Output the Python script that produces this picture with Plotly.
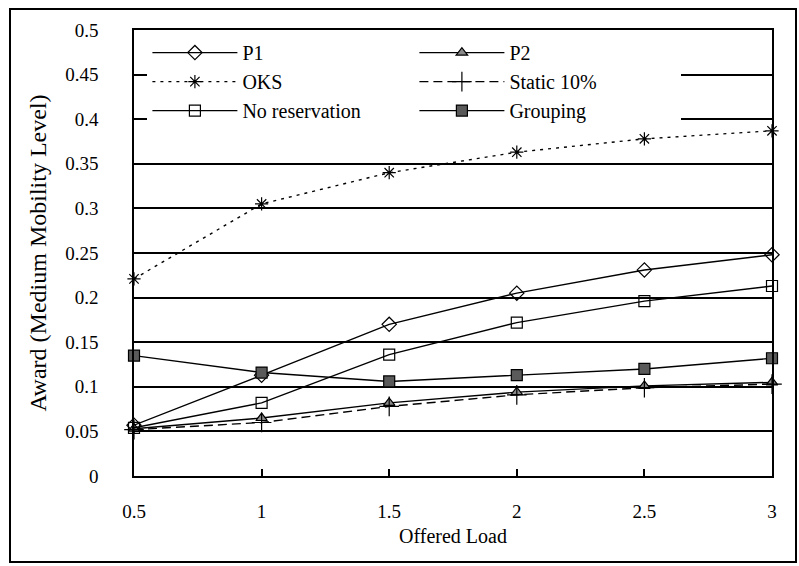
import plotly.graph_objects as go

# Offered load levels
offered_load = [0.5, 1, 1.5, 2, 2.5, 3]

# Award at medium mobility level for each scheme
p1 = [0.057, 0.113, 0.170, 0.205, 0.231, 0.248]
p2 = [0.053, 0.065, 0.082, 0.094, 0.101, 0.105]
oks = [0.221, 0.305, 0.340, 0.363, 0.378, 0.387]
static10 = [0.052, 0.060, 0.078, 0.091, 0.099, 0.103]
no_reservation = [0.054, 0.082, 0.136, 0.172, 0.196, 0.213]
grouping = [0.135, 0.116, 0.106, 0.113, 0.120, 0.132]

y_ticks = [0, 0.05, 0.1, 0.15, 0.2, 0.25, 0.3, 0.35, 0.4, 0.45, 0.5]
y_tick_text = ["0", "0.05", "0.1", "0.15", "0.2", "0.25", "0.3", "0.35", "0.4", "0.45", "0.5"]
x_ticks = [0.5, 1, 1.5, 2, 2.5, 3]
x_tick_text = ["0.5", "1", "1.5", "2", "2.5", "3"]

SERIF = "Liberation Serif, Times New Roman, serif"

series = [
    # name, values, dash, symbol, marker fill, marker size
    ("P1", p1, "solid", "diamond-open", "black", 11),
    ("P2", p2, "solid", "triangle-up", "#8a8a8a", 10),
    ("OKS", oks, "3px,5px", "asterisk-open", "black", 11),
    ("Static 10%", static10, "9px,5px", "cross-thin-open", "black", 14),
    ("No reservation", no_reservation, "solid", "square-open", "black", 11),
    ("Grouping", grouping, "solid", "square", "#5a5a5a", 11),
]

fig = go.Figure()
for name, vals, dash, symbol, fill, size in series:
    fig.add_trace(go.Scatter(
        x=offered_load, y=vals, name=name, mode="lines+markers",
        line=dict(color="black", width=1.4, dash=dash),
        marker=dict(symbol=symbol, size=size, color=fill,
                    line=dict(color="black", width=1.2)),
        cliponaxis=False,
    ))

# Outer frame around the whole chart
L, T = 134, 30
PW, PH = 638, 446
def px_x(px):
    return (px - L) / PW
def px_y(py):
    return (T + PH - py) / PH

fig.add_shape(type="rect", xref="paper", yref="paper",
              x0=px_x(10), x1=px_x(796), y0=px_y(562), y1=px_y(9),
              line=dict(color="black", width=2), layer="below")

fig.update_layout(
    width=799, height=566,
    margin=dict(l=L, r=799 - L - PW, t=T, b=566 - T - PH),
    paper_bgcolor="white", plot_bgcolor="white",
    font=dict(family=SERIF, color="black", size=19),
    showlegend=True,
    legend=dict(
        orientation="h", x=0.021, y=0.993, xanchor="left", yanchor="top",
        bgcolor="white", borderwidth=0,
        font=dict(family=SERIF, size=20, color="black"),
        entrywidth=167, entrywidthmode="pixels",
        itemwidth=85, tracegroupgap=0,
    ),
    xaxis=dict(
        range=[0.5, 3], tickvals=x_ticks, ticktext=x_tick_text,
        showgrid=False, zeroline=False,
        showline=True, linecolor="black", linewidth=1.5, mirror=True,
        ticks="inside", ticklen=7, tickwidth=1.5, tickcolor="black",
        ticklabelstandoff=17,
        tickfont=dict(family=SERIF, size=19),
        title=dict(text="Offered Load", font=dict(family=SERIF, size=20), standoff=8),
    ),
    yaxis=dict(
        range=[0, 0.5], tickvals=y_ticks, ticktext=y_tick_text,
        showgrid=True, gridcolor="black", gridwidth=1.5, zeroline=False,
        showline=True, linecolor="black", linewidth=1.5, mirror=True,
        ticks="inside", ticklen=5, tickwidth=1.2, tickcolor="black",
        ticklabelstandoff=30,
        tickfont=dict(family=SERIF, size=19),
        title=dict(text="Award (Medium Mobility Level)", font=dict(family=SERIF, size=24), standoff=12),
    ),
)

fig.write_html("out.html")
